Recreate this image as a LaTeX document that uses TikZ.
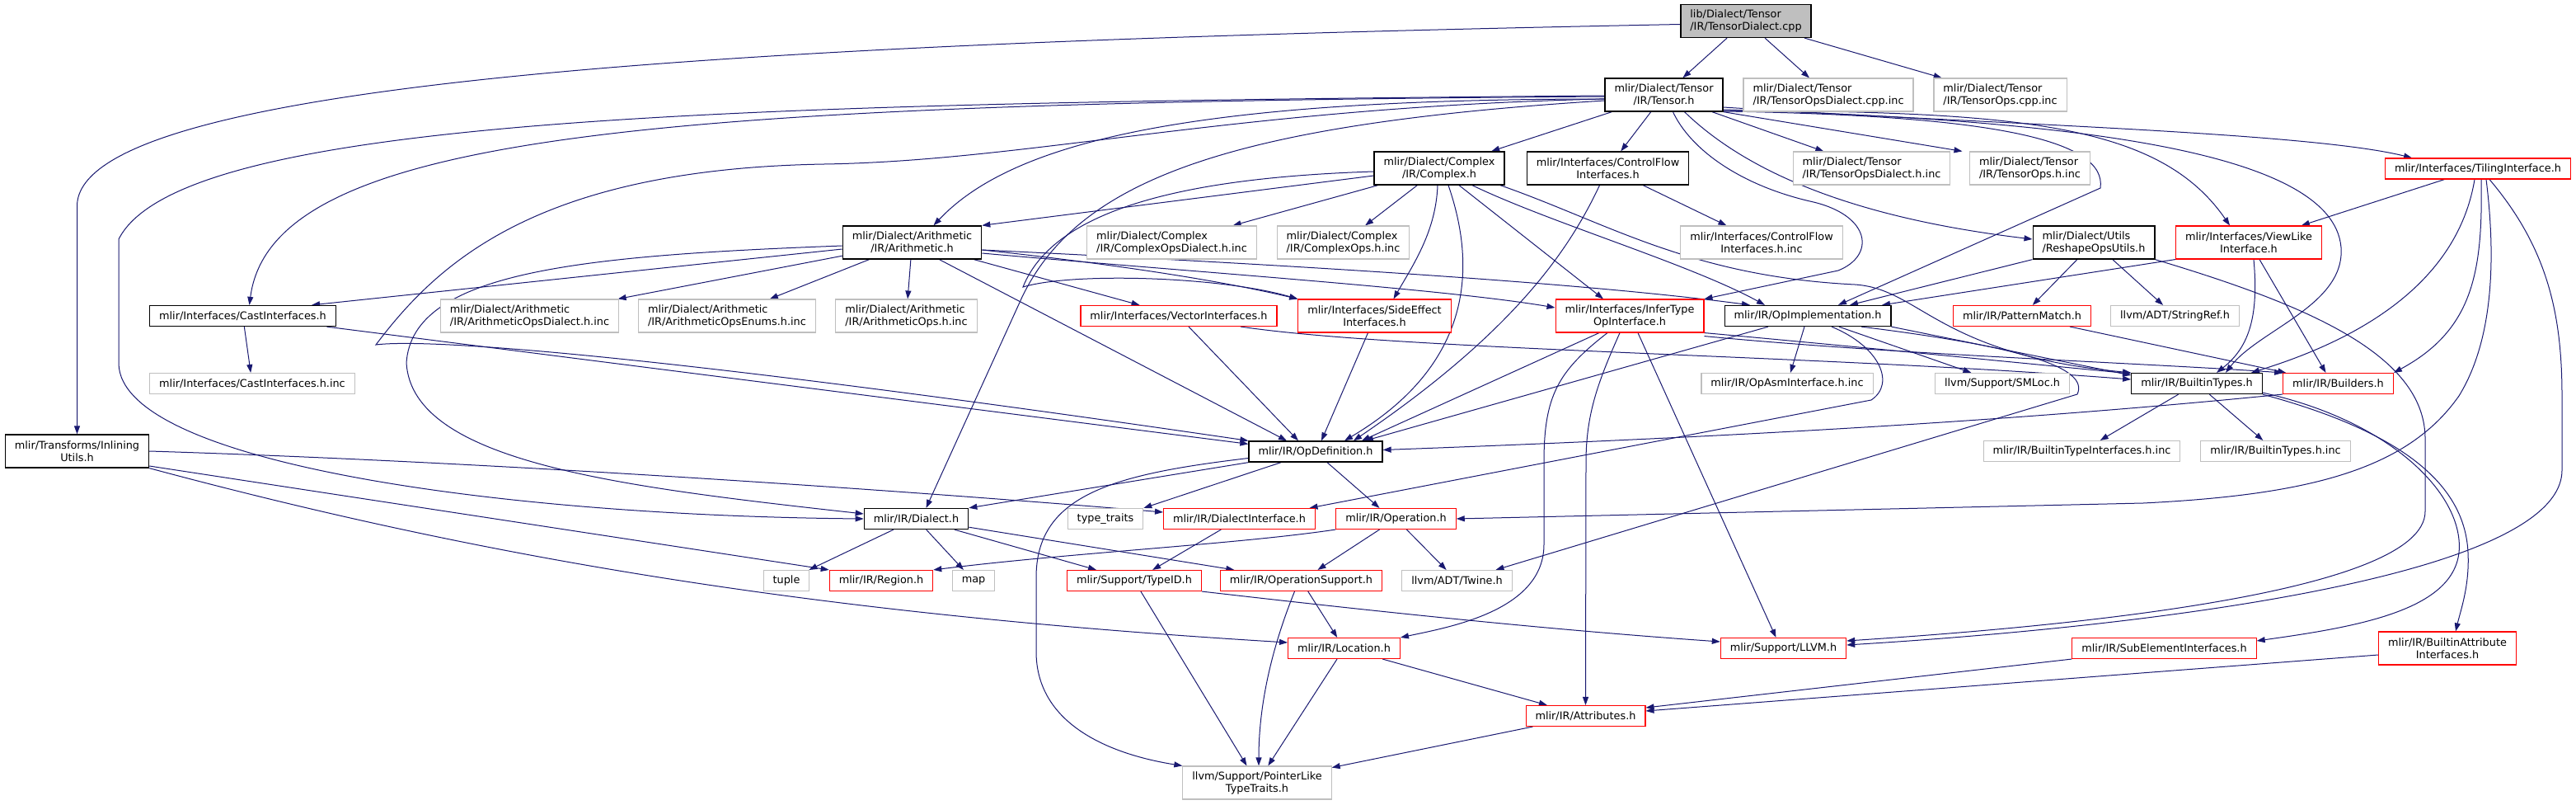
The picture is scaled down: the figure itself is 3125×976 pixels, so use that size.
\documentclass[tikz,border=0pt]{standalone}
\usepackage{fontspec}
\newfontfamily\dotfont{DejaVu Sans}
\usetikzlibrary{arrows.meta, backgrounds}
\definecolor{cedge}{HTML}{191970}
\definecolor{cgrey}{HTML}{BFBFBF}
\definecolor{cred}{HTML}{FF0000}
\tikzset{
  hdr/.style={draw, rectangle, fill=white, inner xsep=11.5pt, inner ysep=0pt, minimum height=25pt,
    align=center, font=\dotfont\fontsize{12.84pt}{15pt}\selectfont},
  doc/.style={hdr, draw=black, line width=1.3pt},
  trunc/.style={hdr, draw=cred, line width=1.1pt},
  ext/.style={hdr, draw=cgrey, line width=1.1pt},
  rootfile/.style={hdr, draw=black, fill=cgrey, line width=1.3pt},
  tall/.style={minimum height=40pt},
  inc/.style={-{Triangle[length=10pt, width=7pt]}, draw=cedge, line width=1pt},
}
\begin{document}
\begin{tikzpicture}[x=1pt, y=-1pt]
  \useasboundingbox (0,0) rectangle (3125,976);
  % top rows
  \node[rootfile, tall, align=left] (tensordialect) at (2118,25.5) {lib/Dialect/Tensor\\/IR/TensorDialect.cpp};
  \node[doc, tall] (tensor) at (2018.5,115) {mlir/Dialect/Tensor\\/IR/Tensor.h};
  \node[ext, tall, align=left] (tdialectcpp) at (2218,115) {mlir/Dialect/Tensor\\/IR/TensorOpsDialect.cpp.inc};
  \node[ext, tall, align=left] (topscpp) at (2426.5,115) {mlir/Dialect/Tensor\\/IR/TensorOps.cpp.inc};
  \node[doc, tall] (complex) at (1746,204) {mlir/Dialect/Complex\\/IR/Complex.h};
  \node[doc, tall] (cflow) at (1950.5,204) {mlir/Interfaces/ControlFlow\\Interfaces.h};
  \node[ext, tall, align=left] (tdialecth) at (2270.5,204) {mlir/Dialect/Tensor\\/IR/TensorOpsDialect.h.inc};
  \node[ext, tall, align=left] (topsh) at (2462.5,204) {mlir/Dialect/Tensor\\/IR/TensorOps.h.inc};
  \node[trunc] (tiling) at (3006,204.5) {mlir/Interfaces/TilingInterface.h};
  \node[doc, tall] (arith) at (1106.5,294) {mlir/Dialect/Arithmetic\\/IR/Arithmetic.h};
  \node[ext, tall, align=left] (cdialectinc) at (1421.5,294) {mlir/Dialect/Complex\\/IR/ComplexOpsDialect.h.inc};
  \node[ext, tall, align=left] (copsinc) at (1629.5,294) {mlir/Dialect/Complex\\/IR/ComplexOps.h.inc};
  \node[ext, tall] (cflowinc) at (2137,294) {mlir/Interfaces/ControlFlow\\Interfaces.h.inc};
  \node[doc, tall, align=left] (reshape) at (2540,294) {mlir/Dialect/Utils\\/ReshapeOpsUtils.h};
  \node[trunc, tall] (viewlike) at (2728,294) {mlir/Interfaces/ViewLike\\Interface.h};
  % middle rows
  \node[doc] (cast) at (294.5,383) {mlir/Interfaces/CastInterfaces.h};
  \node[ext, tall, align=left] (adialectinc) at (642.5,383) {mlir/Dialect/Arithmetic\\/IR/ArithmeticOpsDialect.h.inc};
  \node[ext, tall, align=left] (aenumsinc) at (882,383) {mlir/Dialect/Arithmetic\\/IR/ArithmeticOpsEnums.h.inc};
  \node[ext, tall, align=left] (aopsinc) at (1099.5,383) {mlir/Dialect/Arithmetic\\/IR/ArithmeticOps.h.inc};
  \node[trunc] (vector) at (1430,383) {mlir/Interfaces/VectorInterfaces.h};
  \node[trunc, tall] (sideeff) at (1667.5,383) {mlir/Interfaces/SideEffect\\Interfaces.h};
  \node[trunc, tall] (infer) at (1977,383) {mlir/Interfaces/InferType\\OpInterface.h};
  \node[doc] (opimpl) at (2193,383) {mlir/IR/OpImplementation.h};
  \node[trunc] (pattern) at (2453,383) {mlir/IR/PatternMatch.h};
  \node[ext] (stringref) at (2638.5,383) {llvm/ADT/StringRef.h};
  \node[ext] (castinc) at (306,465) {mlir/Interfaces/CastInterfaces.h.inc};
  \node[ext] (opasminc) at (2168,465) {mlir/IR/OpAsmInterface.h.inc};
  \node[ext] (smloc) at (2429,465) {llvm/Support/SMLoc.h};
  \node[doc] (builtin) at (2665,465) {mlir/IR/BuiltinTypes.h};
  \node[trunc] (builders) at (2836.5,465) {mlir/IR/Builders.h};
  \node[doc, tall] (inlining) at (93.5,547) {mlir/Transforms/Inlining\\Utils.h};
  \node[doc] (opdef) at (1596,547.5) {mlir/IR/OpDefinition.h};
  \node[ext] (btinterfinc) at (2525.5,547) {mlir/IR/BuiltinTypeInterfaces.h.inc};
  \node[ext] (btypesinc) at (2760.5,547) {mlir/IR/BuiltinTypes.h.inc};
  % bottom rows
  \node[doc] (dialect) at (1111.5,629) {mlir/IR/Dialect.h};
  \node[ext] (ttraits) at (1341,629) {type\_traits};
  \node[trunc] (dinterface) at (1503.5,629) {mlir/IR/DialectInterface.h};
  \node[trunc] (operation) at (1693.5,629) {mlir/IR/Operation.h};
  \node[ext] (tuple) at (954,704) {tuple};
  \node[trunc] (region) at (1069,704) {mlir/IR/Region.h};
  \node[ext] (map) at (1181,704) {map};
  \node[trunc] (typeid) at (1376,704) {mlir/Support/TypeID.h};
  \node[trunc] (opsupport) at (1578.5,704) {mlir/IR/OperationSupport.h};
  \node[ext] (twine) at (1767.5,704) {llvm/ADT/Twine.h};
  \node[trunc] (loc) at (1630.5,786) {mlir/IR/Location.h};
  \node[trunc] (llvm) at (2163.5,786) {mlir/Support/LLVM.h};
  \node[trunc] (subelem) at (2625.5,786) {mlir/IR/SubElementInterfaces.h};
  \node[trunc, tall] (battrinterf) at (2969,786) {mlir/IR/BuiltinAttribute\\Interfaces.h};
  \node[trunc] (attr) at (1923.5,868) {mlir/IR/Attributes.h};
  \node[ext, tall] (ptr) at (1525,949) {llvm/Support/PointerLike\\TypeTraits.h};

  \begin{scope}[on background layer]
  % from the .cpp file
  \draw[inc] (tensordialect) -- (tensor);
  \draw[inc] (tensordialect) -- (tdialectcpp);
  \draw[inc] (tensordialect) -- (topscpp);
  \draw[inc] ([yshift=-4pt]tensordialect.west) .. controls (1000,50) and (93.5,90) .. (93.5,250) -- (inlining.north);
  % Tensor.h
  \draw[inc] (tensor) -- (complex);
  \draw[inc] (tensor) -- (cflow);
  \draw[inc] (tensor) -- (tdialecth);
  \draw[inc] (tensor.south east) -- ([xshift=-82pt]topsh.north);
  \draw[inc] ([yshift=-2pt]tensor.west) .. controls (800,125) and (330,160) .. ([xshift=8pt]cast.north);
  \draw[inc] ([yshift=-1pt]tensor.west) .. controls (900,125) and (220,140) .. (144,290) -- (144,440) .. controls (144,560) and (600,625) .. (dialect.west);
  \draw[inc] ([yshift=-5pt]tensor.west) .. controls (1500,130) and (1250,195) .. (1000,199) .. controls (650,205) and (530,320) .. (456,418) .. controls (520,410) and (800,430) .. (opdef.north west);
  \draw[inc] ([yshift=-5pt]tensor.west) .. controls (1450,120) and (1230,170) .. ([xshift=26pt]arith.north);
  \draw[inc] ([yshift=-7pt]tensor.west) .. controls (1500,150) and (1310,215) .. (1240,360) -- ([xshift=12pt]dialect.north);
  \draw[inc] ([xshift=11pt]tensor.south) .. controls (2050,180) and (2110,225) .. (2200,245) .. controls (2270,262) and (2275,310) .. (2230,328) -- (infer.north east);
  \draw[inc] ([xshift=25pt]tensor.south) .. controls (2110,200) and (2230,262) .. ([yshift=4pt]reshape.west);
  \draw[inc] ([yshift=-20pt]tensor.east) .. controls (2420,140) and (2556,170) .. (2548,228) -- ([xshift=37pt]opimpl.north);
  \draw[inc] ([yshift=-19pt]tensor.east) .. controls (2450,135) and (2620,150) .. ([xshift=-23pt]viewlike.north);
  \draw[inc] ([yshift=-15pt]tensor.east) .. controls (2400,150) and (2800,160) .. ([xshift=-80pt]tiling.north);
  \draw[inc] ([yshift=-18pt]tensor.east) .. controls (2500,145) and (2830,180) .. (2840,300) .. controls (2845,370) and (2740,400) .. ([xshift=35pt]builtin.north);
  % Complex.h and ControlFlowInterfaces.h
  \draw[inc] ([yshift=-9pt]complex.west) -- (arith.north east);
  \draw[inc] ([yshift=-4pt]complex.west) .. controls (1450,215) and (1280,250) .. (1241,348) .. controls (1300,330) and (1480,335) .. (sideeff.north west);
  \draw[inc] (complex) -- (cdialectinc);
  \draw[inc] (complex) -- (copsinc);
  \draw[inc] ([xshift=-2pt]complex.south) .. controls (1742,280) and (1715,320) .. ([xshift=23pt]sideeff.north);
  \draw[inc] ([xshift=11pt]complex.south) .. controls (1790,320) and (1790,440) .. ([xshift=35pt]opdef.north);
  \draw[inc] ([xshift=24pt]complex.south) -- ([xshift=-32pt]infer.north);
  \draw[inc] ([xshift=40pt]complex.south) .. controls (1880,270) and (2050,320) .. ([xshift=-52pt]opimpl.north);
  \draw[inc] ([xshift=74pt]complex.south) .. controls (1950,270) and (2050,335) .. (2250,345) .. controls (2330,350) and (2350,430) .. (builtin.north west);
  \draw[inc] (cflow) -- (cflowinc);
  \draw[inc] ([xshift=-10pt]cflow.south) .. controls (1905,300) and (1840,400) .. ([xshift=46pt]opdef.north);
  % Arithmetic.h
  \draw[inc] ([yshift=-8pt]arith.west) -- ([xshift=-30pt]cast.north east);
  \draw[inc] ([yshift=-4pt]arith.west) .. controls (700,310) and (500,330) .. (493,440) .. controls (500,560) and (750,590) .. ([yshift=6pt]dialect.west);
  \draw[inc] (arith) -- (adialectinc);
  \draw[inc] (arith) -- (aenumsinc);
  \draw[inc] (arith) -- (aopsinc);
  \draw[inc] (arith) -- (vector);
  \draw[inc] ([xshift=33pt]arith.south) -- ([xshift=-35pt]opdef.north);
  \draw[inc] ([yshift=-9pt]arith.east) .. controls (1350,320) and (1480,340) .. (sideeff.north west);
  \draw[inc] ([yshift=-13pt]arith.east) .. controls (1450,330) and (1750,350) .. ([yshift=10pt]infer.west);
  \draw[inc] ([yshift=-9pt]arith.east) .. controls (1500,318) and (1900,340) .. ([xshift=-70pt]opimpl.north);
  % interfaces row
  \draw[inc] ([xshift=12pt]vector.south) -- ([xshift=-21pt]opdef.north);
  \draw[inc] ([xshift=75pt]vector.south) .. controls (1700,425) and (2200,430) .. ([yshift=5pt]builtin.west);
  \draw[inc] ([xshift=-8pt]sideeff.south) -- ([xshift=7pt]opdef.north);
  \draw[inc] ([xshift=-37pt]infer.south) -- ([xshift=56pt]opdef.north);
  \draw[inc] ([xshift=-27pt]infer.south) .. controls (1890,450) and (1873,480) .. (1873,560) -- (1873,660) .. controls (1873,740) and (1760,760) .. (loc.north east);
  \draw[inc] ([xshift=-12pt]infer.south) .. controls (1940,460) and (1924,500) .. (1924,560) -- (attr.north);
  \draw[inc] ([xshift=10pt]infer.south) -- ([xshift=-9pt]llvm.north);
  \draw[inc] (infer.south east) .. controls (2250,420) and (2450,440) .. ([yshift=12pt]builtin.west);
  \draw[inc] ([yshift=-4pt]infer.south east) .. controls (2300,430) and (2600,440) .. (builders.north west);
  \draw[inc] (opimpl) -- (opasminc);
  \draw[inc] (opimpl) -- (smloc);
  \draw[inc] ([xshift=-48pt]opimpl.south) -- ([xshift=60pt]opdef.north);
  \draw[inc] (opimpl.south east) -- ([yshift=10pt]builtin.west);
  \draw[inc] ([xshift=29pt]opimpl.south) .. controls (2280,420) and (2300,465) .. (2270,485) -- ([xshift=85pt]dinterface.north);
  \draw[inc] ([xshift=65pt]opimpl.south) .. controls (2450,420) and (2535,445) .. (2520,478) -- ([xshift=47pt]twine.north);
  \draw[inc] ([xshift=58pt]pattern.south) -- ([xshift=4pt]builders.north west);
  % Utils, ViewLike and Tiling
  \draw[inc] (reshape.south west) -- ([xshift=51pt]opimpl.north);
  \draw[inc] (reshape) -- (pattern);
  \draw[inc] (reshape) -- (stringref);
  \draw[inc] (reshape.south east) .. controls (2800,370) and (2940,430) .. (2942,530) -- (2942,620) .. controls (2942,720) and (2500,760) .. ([yshift=9pt]llvm.east);
  \draw[inc] (viewlike.south west) -- ([xshift=90pt]opimpl.north);
  \draw[inc] ([xshift=6pt]viewlike.south) .. controls (2740,380) and (2730,420) .. ([xshift=24pt]builtin.north);
  \draw[inc] ([xshift=13pt]viewlike.south) -- ([xshift=-15pt]builders.north);
  \draw[inc] (tiling) -- (viewlike);
  \draw[inc] ([xshift=-4pt]tiling.south) .. controls (2985,320) and (2900,400) .. ([xshift=66pt]builtin.north);
  \draw[inc] ([xshift=4pt]tiling.south) .. controls (3012,330) and (3000,400) .. (builders.north east);
  \draw[inc] ([xshift=10pt]tiling.south) .. controls (3030,330) and (3020,420) .. (2983,480) .. controls (2920,570) and (2800,600) .. (2600,610) -- (operation.east);
  \draw[inc] ([xshift=14pt]tiling.south) .. controls (3090,300) and (3108,380) .. (3108,480) -- (3108,570) .. controls (3108,700) and (2600,760) .. ([yshift=4pt]llvm.east);
  % BuiltinTypes.h and Builders.h
  \draw[inc] (builtin) -- (btinterfinc);
  \draw[inc] (builtin) -- (btypesinc);
  \draw[inc] ([yshift=2pt]builtin.south east) .. controls (2900,510) and (2990,600) .. (2983,670) .. controls (2975,740) and (2860,760) .. ([yshift=9pt]subelem.east);
  \draw[inc] (builtin.south east) .. controls (2900,520) and (2990,580) .. (2994,670) .. controls (2996,710) and (2985,740) .. ([xshift=10pt]battrinterf.north);
  \draw[inc] (builders.south west) .. controls (2450,510) and (2100,530) .. ([yshift=2pt]opdef.east);
  \draw[inc] (subelem.south west) -- ([yshift=10pt]attr.east);
  \draw[inc] ([yshift=-8pt]battrinterf.west) -- ([yshift=6pt]attr.east);
  % OpDefinition.h and below
  \draw[inc] (opdef.south west) -- (dialect.north east);
  \draw[inc] ([yshift=-8pt]opdef.west) .. controls (1350,575) and (1257,600) .. (1257,700) -- (1257,790) .. controls (1257,880) and (1350,915) .. (ptr.north west);
  \draw[inc] ([xshift=-42pt]opdef.south) -- (ttraits.north east);
  \draw[inc] ([xshift=14pt]opdef.south) -- ([xshift=-20pt]operation.north);
  \draw[inc] (dinterface) -- (typeid);
  \draw[inc] (operation.south west) .. controls (1500,660) and (1300,670) .. (region.north east);
  \draw[inc] (operation) -- (opsupport);
  \draw[inc] (operation) -- (twine);
  \draw[inc] (dialect) -- (tuple);
  \draw[inc] (dialect) -- (map);
  \draw[inc] (dialect) -- (typeid);
  \draw[inc] (dialect) -- (opsupport);
  \draw[inc] (typeid) -- (ptr);
  \draw[inc] (typeid.south east) .. controls (1700,745) and (1900,765) .. ([yshift=8pt]llvm.west);
  \draw[inc] (opsupport) -- (loc);
  \draw[inc] ([xshift=-8pt]opsupport.south) .. controls (1545,780) and (1527,850) .. ([xshift=2pt]ptr.north);
  \draw[inc] (loc) -- (ptr);
  \draw[inc] (loc) -- (attr);
  \draw[inc] (attr) -- (ptr);
  % InliningUtils.h and CastInterfaces.h
  \draw[inc] (inlining.east) .. controls (600,560) and (1100,595) .. ([yshift=8pt]dinterface.west);
  \draw[inc] ([yshift=-18pt]inlining.east) -- (region.north west);
  \draw[inc] (inlining.south east) .. controls (600,680) and (1000,745) .. ([yshift=7pt]loc.west);
  \draw[inc] (cast) -- (castinc);
  \draw[inc] ([xshift=102pt]cast.south) -- ([yshift=-4pt]opdef.north west);
  \end{scope}
\end{tikzpicture}
\end{document}
